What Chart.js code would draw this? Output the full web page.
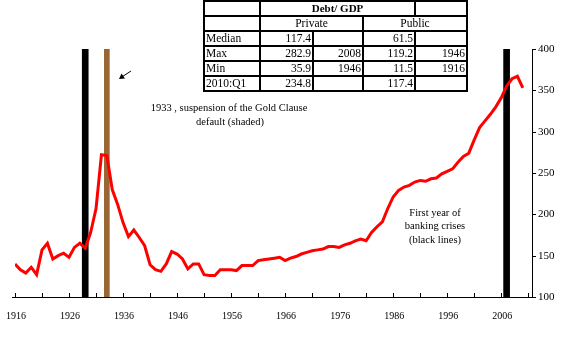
<!DOCTYPE html>
<html>
<head>
<meta charset="utf-8">
<script src="https://cdn.jsdelivr.net/npm/chart.js@4.4.0/dist/chart.umd.min.js"></script>
<style>
  html, body { margin: 0; padding: 0; background: #fff; }
  #wrap { position: relative; width: 572px; height: 337px; }
</style>
</head>
<body>
<div id="wrap"><canvas id="myChart" width="572" height="337"></canvas></div>
<script>
// años y deuda privada / PIB
const years = [1916,1917,1918,1919,1920,1921,1922,1923,1924,1925,1926,1927,1928,1929,1930,
  1931,1932,1933,1934,1935,1936,1937,1938,1939,1940,1941,1942,1943,1944,1945,1946,1947,1948,
  1949,1950,1951,1952,1953,1954,1955,1956,1957,1958,1959,1960,1961,1962,1963,1964,1965,1966,
  1967,1968,1969,1970,1971,1972,1973,1974,1975,1976,1977,1978,1979,1980,1981,1982,1983,1984,
  1985,1986,1987,1988,1989,1990,1991,1992,1993,1994,1995,1996,1997,1998,1999,2000,2001,2002,
  2003,2004,2005,2006,2007,2008,2009,2010];
const deudaPrivada = [140,133,129,136,127,157,165,146,150,153,148,160,165,159,178,
  207,272,271,230,212,190,173,181,172,162,139,133,131,140,155,152,146,134,
  140,140,127,126,126,133,133,133,132,138,138,138,144,145,146,147,148,144,
  147,149,152,154,156,157,158,161,161,160,163,165,168,170,168,178,185,191,
  207,221,229,233,235,239,241,240,243,244,249,252,255,263,270,274,290,305,
  313,321,330,341,355,364,367,353];

// crisis bancarias (lineas negras) y clausula oro (marron)
const aniosCrisis = [1929, 2007];
const anioOro = [1933];

// ejes
const xTicks = [1916,1926,1936,1946,1956,1966,1976,1986,1996,2006];
const xMarcas = [1916,1921,1926,1931,1936,1941,1946,1951,1956,1961,1966,1971,1976,1981,1986,1991,1996,2001,2006,2011];
const yTicks = [100,150,200,250,300,350,400];

// tabla Debt / GDP
const filasTabla = ['Median','Max','Min','2010:Q1'];
const privadoValor = ['117.4','282.9','35.9','234.8'];
const privadoAnio = ['','2008','1946',''];
const publicoValor = ['61.5','119.2','11.5','117.4'];
const publicoAnio = ['','1946','1916',''];

const serif = '"Liberation Serif", "Times New Roman", serif';

const puntos = years.map((y, i) => ({x: y, y: deudaPrivada[i]}));

// dibuja ejes, etiquetas x, tabla y textos
const extras = {
  id: 'extras',
  afterDraw(chart) {
    const ctx = chart.ctx;
    const xs = chart.scales.x, ys = chart.scales.y;
    const a = chart.chartArea;
    ctx.save();
    ctx.strokeStyle = '#000';
    ctx.lineWidth = 1;
    // eje x
    ctx.beginPath();
    ctx.moveTo(a.left - 3, a.bottom + 0.5);
    ctx.lineTo(a.right, a.bottom + 0.5);
    for (let m of xMarcas) {
      let px = Math.round(xs.getPixelForValue(m)) + 0.5;
      ctx.moveTo(px, a.bottom);
      ctx.lineTo(px, a.bottom - 4);
    }
    // eje y (derecha)
    ctx.moveTo(a.right + 0.5, a.top);
    ctx.lineTo(a.right + 0.5, a.bottom + 1);
    for (let t of yTicks) {
      let py = Math.round(ys.getPixelForValue(t)) + 0.5;
      ctx.moveTo(a.right, py);
      ctx.lineTo(a.right + 4, py);
    }
    ctx.stroke();

    ctx.fillStyle = '#000';
    ctx.font = '10px ' + serif;
    ctx.textAlign = 'center';
    ctx.textBaseline = 'middle';
    for (let t of xTicks) {
      ctx.fillText(String(t), xs.getPixelForValue(t) + 1, a.bottom + 19);
    }

    // flecha
    ctx.beginPath();
    ctx.moveTo(131, 71);
    ctx.lineTo(121, 77.5);
    ctx.stroke();
    ctx.beginPath();
    ctx.moveTo(119, 79);
    ctx.lineTo(121.5, 73.5);
    ctx.lineTo(125, 78.5);
    ctx.closePath();
    ctx.fill();

    // textos
    ctx.font = '10.5px ' + serif;
    ctx.fillText('1933 , suspension of the Gold Clause', 229, 108);
    ctx.fillText('default (shaded)', 230, 122);
    ctx.fillText('First year of', 435, 213);
    ctx.fillText('banking crises', 435, 226);
    ctx.fillText('(black lines)', 435, 240);

    // tabla
    const cx = [204, 260, 313, 363, 415, 467];
    const cy = [1, 16, 31, 46, 61, 76, 91];
    ctx.lineWidth = 2;
    const celda = (x0, y0, x1, y1) => ctx.strokeRect(x0, y0, x1 - x0, y1 - y0);
    celda(cx[0], cy[0], cx[1], cy[1]);
    celda(cx[1], cy[0], cx[4], cy[1]);
    celda(cx[4], cy[0], cx[5], cy[1]);
    celda(cx[0], cy[1], cx[1], cy[2]);
    celda(cx[1], cy[1], cx[3], cy[2]);
    celda(cx[3], cy[1], cx[5], cy[2]);
    for (let r = 2; r < 6; r++) {
      for (let c = 0; c < 5; c++) celda(cx[c], cy[r], cx[c + 1], cy[r + 1]);
    }
    ctx.font = 'bold 11px ' + serif;
    ctx.fillText('Debt/ GDP', (cx[1] + cx[4]) / 2, (cy[0] + cy[1]) / 2 + 0.5);
    ctx.font = '11.5px ' + serif;
    ctx.fillText('Private', (cx[1] + cx[3]) / 2, (cy[1] + cy[2]) / 2 + 0.5);
    ctx.fillText('Public', (cx[3] + cx[5]) / 2, (cy[1] + cy[2]) / 2 + 0.5);
    for (let i = 0; i < filasTabla.length; i++) {
      let yy = (cy[i + 2] + cy[i + 3]) / 2 + 0.5;
      ctx.textAlign = 'left';
      ctx.fillText(filasTabla[i], cx[0] + 2, yy);
      ctx.textAlign = 'right';
      ctx.fillText(privadoValor[i], cx[2] - 2, yy);
      ctx.fillText(privadoAnio[i], cx[3] - 2, yy);
      ctx.fillText(publicoValor[i], cx[4] - 2, yy);
      ctx.fillText(publicoAnio[i], cx[5] - 2, yy);
    }
    ctx.restore();
  }
};

const graficoHtml = document.getElementById('myChart').getContext('2d');
const graficoNuevo = new Chart(graficoHtml, {
  type: 'line',
  data: {
    datasets: [{
      type: 'line',
      label: 'Private debt / GDP',
      data: puntos,
      borderColor: '#ff0000',
      borderWidth: 3,
      pointRadius: 0,
      tension: 0,
      order: 0
    }, {
      type: 'bar',
      label: 'Banking crises',
      data: aniosCrisis.map(a => ({x: a, y: [100, 400]})),
      backgroundColor: '#000000',
      barThickness: 6,
      grouped: false,
      order: 1
    }, {
      type: 'bar',
      label: 'Gold Clause',
      data: anioOro.map(a => ({x: a, y: [100, 400]})),
      backgroundColor: '#996633',
      barThickness: 5,
      grouped: false,
      order: 1
    }]
  },
  options: {
    responsive: false,
    animation: false,
    devicePixelRatio: 1,
    layout: { padding: { top: 49, left: 15, right: 0, bottom: 0 } },
    plugins: { legend: { display: false }, tooltip: { enabled: false } },
    scales: {
      x: {
        type: 'linear',
        min: 1916,
        max: 2011.7,
        offset: false,
        grid: { display: false, drawTicks: false },
        border: { display: false },
        afterFit: (scale) => { scale.height = 40; },
        ticks: { display: false }
      },
      y: {
        position: 'right',
        min: 100,
        max: 400,
        grid: { display: false, drawTicks: false },
        border: { display: false },
        afterBuildTicks: (scale) => { scale.ticks = yTicks.map(v => ({value: v})); },
        afterFit: (scale) => { scale.width = 40; },
        ticks: {
          padding: 6,
          color: '#000',
          font: { family: serif, size: 11 }
        }
      }
    }
  },
  plugins: [extras]
});
</script>
</body>
</html>
